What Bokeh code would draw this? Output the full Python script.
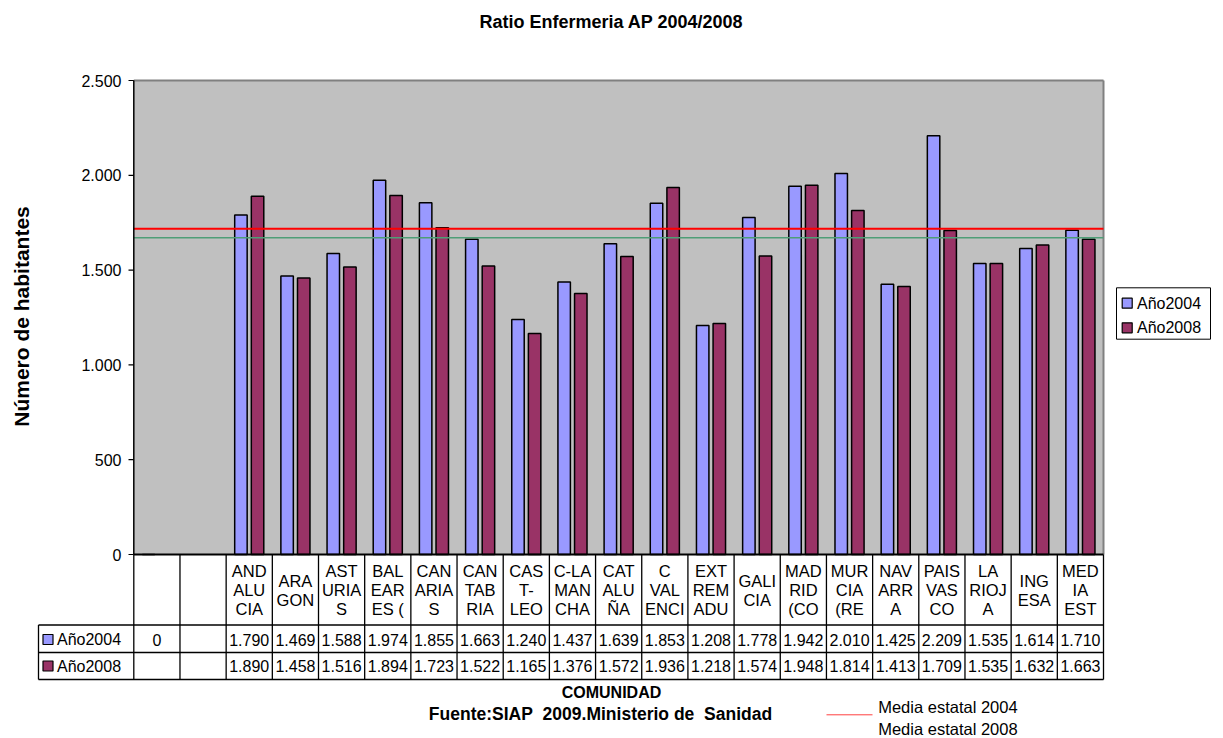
import math
from bokeh.plotting import figure
from bokeh.models import Range1d
from bokeh.embed import file_html
from bokeh.resources import INLINE
from bokeh.core.properties import value

# ---------------- data ----------------
categories = ["", "", "AND\nALU\nCIA", "ARA\nGON", "AST\nURIA\nS", "BAL\nEAR\nES (",
              "CAN\nARIA\nS", "CAN\nTAB\nRIA", "CAS\nT-\nLEO", "C-LA\nMAN\nCHA",
              "CAT\nALU\nÑA", "C\nVAL\nENCI", "EXT\nREM\nADU", "GALI\nCIA",
              "MAD\nRID\n(CO", "MUR\nCIA\n(RE", "NAV\nARR\nA", "PAIS\nVAS\nCO",
              "LA\nRIOJ\nA", "ING\nESA", "MED\nIA\nEST"]
ano2004 = [0, None, 1790, 1469, 1588, 1974, 1855, 1663, 1240, 1437, 1639, 1853,
           1208, 1778, 1942, 2010, 1425, 2209, 1535, 1614, 1710]
ano2008 = [None, None, 1890, 1458, 1516, 1894, 1723, 1522, 1165, 1376, 1572, 1936,
           1218, 1574, 1948, 1814, 1413, 1709, 1535, 1632, 1663]
series_names = ["Año2004", "Año2008"]
media_2004 = 1718
media_2008 = 1670
y_ticks = [0, 500, 1000, 1500, 2000, 2500]
y_max = 2500

# ---------------- layout (pixels) ----------------
W, H = 1223, 738
PL, PR, PT, PB = 133.3, 1103.0, 80.0, 554.0
n = len(categories)
cw = (PR - PL) / n
k = (PB - PT) / y_max

def X(px):
    return (px - PL) / cw

def Y(py):
    return (PB - py) / k

FONT = value("Liberation Sans")
C2004 = "#9999FF"
C2008 = "#993366"

p = figure(width=W, height=H, x_range=Range1d(X(0), X(W)), y_range=Range1d(Y(H), Y(0)),
           min_border=0, toolbar_location=None, output_backend="svg",
           x_axis_location=None, y_axis_location=None, outline_line_color=None)
p.grid.visible = False
p.background_fill_color = "white"
p.border_fill_color = "white"

# plot area
p.quad(left=[0], right=[n], bottom=[0], top=[y_max], fill_color="#C0C0C0", line_color=None)
p.segment(x0=[0], x1=[n], y0=[y_max], y1=[y_max], line_color="#808080", line_width=2)
p.segment(x0=[n], x1=[n], y0=[0], y1=[y_max], line_color="#808080", line_width=2)

# bars
off, bw = 0.18, 0.27
for vals, sign, col in [(ano2004, -1, C2004), (ano2008, 1, C2008)]:
    xs = [i + 0.5 + sign * off for i, v in enumerate(vals) if v is not None]
    tops = [v for v in vals if v is not None]
    p.vbar(x=xs, top=tops, bottom=0, width=bw, fill_color=col, line_color="black", line_width=1.5)

# mean lines
p.segment(x0=[0], x1=[n], y0=[media_2004], y1=[media_2004], line_color="#FF0000", line_width=2)
p.segment(x0=[0], x1=[n], y0=[media_2008], y1=[media_2008], line_color="#4E9E76", line_width=1.5)

# axes
p.segment(x0=[0], x1=[0], y0=[0], y1=[y_max], line_color="black", line_width=1.5)
p.segment(x0=[X(128)] * len(y_ticks), x1=[0] * len(y_ticks), y0=y_ticks, y1=y_ticks,
          line_color="black", line_width=1.2)
p.text(x=[X(121)] * len(y_ticks), y=y_ticks,
       text=[f"{t:,}".replace(",", ".") for t in y_ticks],
       text_align="right", text_baseline="middle", text_font=FONT,
       text_font_size="16px", text_color="black")

# data table lines
tb_head_bot, tb_r1_bot, tb_r2_bot = 624.5, 652.0, 679.0
tb_left = 38.0
p.segment(x0=list(range(n + 1)), x1=list(range(n + 1)),
          y0=[Y(PB)] * (n + 1), y1=[Y(tb_r2_bot)] * (n + 1), line_color="black", line_width=1.3)
p.segment(x0=[X(tb_left)], x1=[X(tb_left)], y0=[Y(tb_head_bot)], y1=[Y(tb_r2_bot)],
          line_color="black", line_width=1.3)
p.segment(x0=[X(tb_left)] * 3, x1=[n] * 3, y0=[Y(tb_head_bot), Y(tb_r1_bot), Y(tb_r2_bot)],
          y1=[Y(tb_head_bot), Y(tb_r1_bot), Y(tb_r2_bot)], line_color="black", line_width=1.3)
p.segment(x0=[0], x1=[n], y0=[0], y1=[0], line_color="black", line_width=2)

# header labels
hx, hy, ht = [], [], []
for i, lab in enumerate(categories):
    lines = lab.split("\n") if lab else []
    m = len(lines)
    for j, ln in enumerate(lines):
        hx.append(i + 0.5)
        hy.append(Y(589.5 + (j - (m - 1) / 2) * 19))
        ht.append(ln)
p.text(x=hx, y=hy, text=ht, text_align="center", text_baseline="middle",
       text_font=FONT, text_font_size="16.5px", text_color="black")

def fmt(v):
    return "" if v is None else f"{v:,}".replace(",", ".")

row_mid = [639.0, 665.5]
for vals, ym in zip([ano2004, ano2008], row_mid):
    p.text(x=[i + 0.5 for i in range(n)], y=[Y(ym)] * n, text=[fmt(v) for v in vals],
           text_align="center", text_baseline="middle", text_font=FONT,
           text_font_size="16px", text_color="black")

# row labels with keys
p.scatter(x=[X(47.5)] * 2, y=[Y(ym) for ym in row_mid], marker="square", size=10,
          fill_color=[C2004, C2008], line_color="black", line_width=1.2)
p.text(x=[X(56.5)] * 2, y=[Y(ym) for ym in row_mid], text=series_names,
       text_align="left", text_baseline="middle", text_font=FONT,
       text_font_size="16px", text_color="black")

# legend
p.quad(left=[X(1116)], right=[X(1210)], bottom=[Y(338.7)], top=[Y(287.3)],
       fill_color="white", line_color="black", line_width=1)
leg_mid = [302.7, 327.3]
p.scatter(x=[X(1126.7)] * 2, y=[Y(v) for v in leg_mid], marker="square", size=10,
          fill_color=[C2004, C2008], line_color="black", line_width=1.2)
p.text(x=[X(1136.5)] * 2, y=[Y(v) for v in leg_mid], text=series_names,
       text_align="left", text_baseline="middle", text_font=FONT,
       text_font_size="16px", text_color="black")

# titles
p.text(x=[X(611)], y=[Y(21)], text=["Ratio Enfermeria AP 2004/2008"], text_align="center",
       text_baseline="middle", text_font=FONT, text_font_size="18px",
       text_font_style="bold", text_color="black")
p.text(x=[X(21)], y=[Y(316)], text=["Número de habitantes"], angle=math.pi / 2,
       text_align="center", text_baseline="middle", text_font=FONT, text_font_size="21px",
       text_font_style="bold", text_color="black")
p.text(x=[X(611)], y=[Y(692)], text=["COMUNIDAD"], text_align="center",
       text_baseline="middle", text_font=FONT, text_font_size="16px",
       text_font_style="bold", text_color="black")
p.text(x=[X(600)], y=[Y(713)], text=["Fuente:SIAP\u00a0 2009.Ministerio de\u00a0 Sanidad"],
       text_align="center", text_baseline="middle", text_font=FONT, text_font_size="17.5px",
       text_font_style="bold", text_color="black")

# mean legend
p.segment(x0=[X(826)], x1=[X(872)], y0=[Y(714.3)], y1=[Y(714.3)], line_color="#FF4040", line_width=1)
p.text(x=[X(877.7)] * 2, y=[Y(706.0), Y(728.5)], text=["Media estatal 2004", "Media estatal 2008"],
       text_align="left", text_baseline="middle", text_font=FONT, text_font_size="16.5px",
       text_color="black")

open("out.html", "w").write(file_html(p, INLINE))
